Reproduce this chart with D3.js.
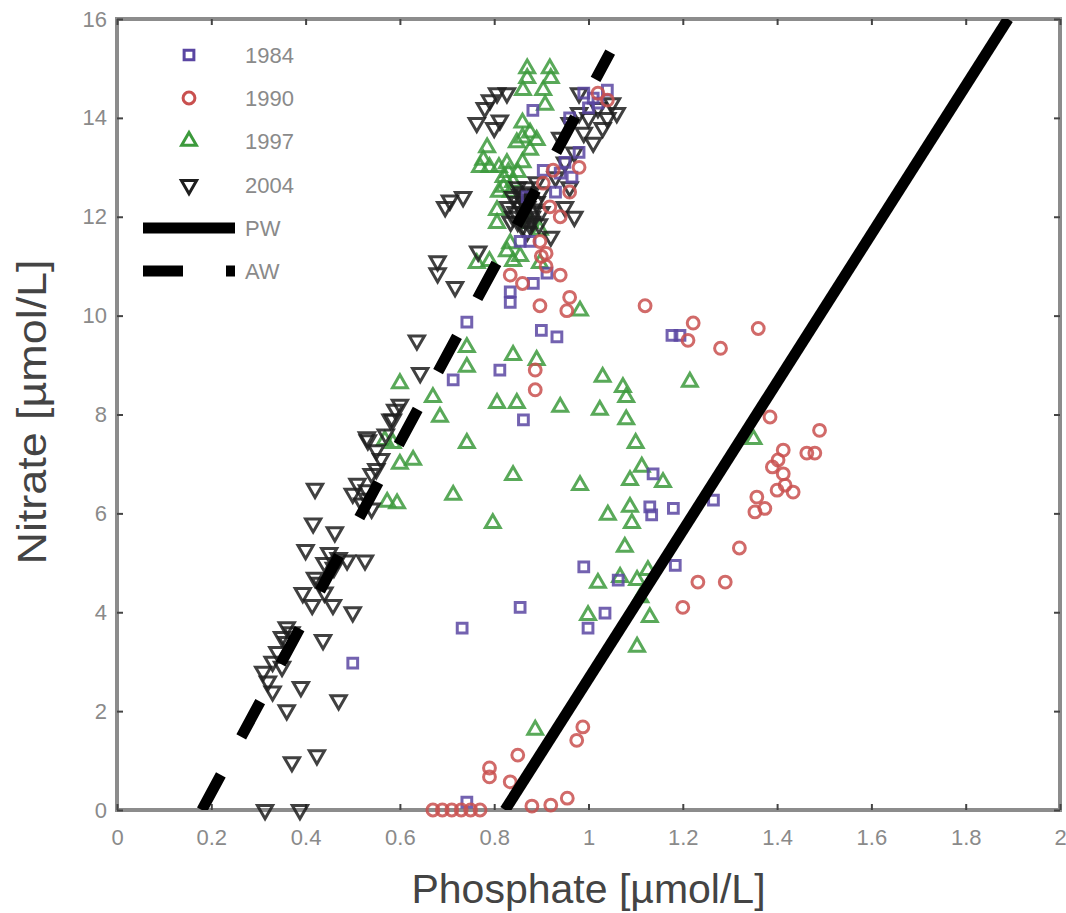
<!DOCTYPE html>
<html lang="en">
<head>
<meta charset="UTF-8">
<title>Nitrate vs phosphate</title>
<script src="https://d3js.org/d3.v7.min.js"></script>
<style>
  body { margin: 0; background: #fff; }
  svg { display: block; font-family: 'Liberation Sans', Arial, sans-serif; }
  .axis .domain { display: none; }
  .axis .tick line { stroke: #444; stroke-width: 2; }
  .axis .tick text { fill: #8a8a8a; font-size: 22px; }
  .axis-title { fill: #444; font-size: 41px; }
  .legend-text { fill: #8a8a8a; font-size: 22px; }
</style>
</head>
<body>
<script>
// tick values
var xTicks = [0, 0.2, 0.4, 0.6, 0.8, 1, 1.2, 1.4, 1.6, 1.8, 2];
var yTicks = [0, 2, 4, 6, 8, 10, 12, 14, 16];

// [phosphate, nitrate]
var y1984 = [
  [0.742, 0.16], [0.50, 2.97], [0.732, 3.68], [0.855, 4.1], [0.999, 3.68], [1.035, 3.98],
  [0.99, 4.92], [1.063, 4.65], [1.184, 4.95], [1.13, 6.13], [1.134, 5.97], [1.137, 6.8],
  [1.18, 6.1], [1.265, 6.27], [0.862, 7.89], [0.713, 8.7], [0.812, 8.9], [0.742, 9.87],
  [0.90, 9.7], [0.933, 9.57], [1.177, 9.6], [1.194, 9.6], [0.834, 10.48], [0.834, 10.27],
  [0.883, 10.65], [0.912, 10.86], [0.855, 11.5], [0.876, 11.5], [0.904, 12.94], [0.94, 12.88],
  [0.965, 12.8], [0.882, 14.15], [0.96, 14.0], [1.01, 14.4], [1.04, 14.56], [1.0, 14.2],
  [0.98, 13.3], [0.87, 12.4], [0.93, 12.5], [0.95, 13.1], [1.02, 14.3], [0.99, 14.5]
];
var y1990 = [
  [0.67, 0], [0.69, 0], [0.71, 0], [0.73, 0], [0.75, 0], [0.77, 0], [0.88, 0.08], [0.92, 0.1],
  [0.955, 0.24], [0.79, 0.67], [0.79, 0.85], [0.834, 0.57], [0.85, 1.11], [0.975, 1.41],
  [0.988, 1.68], [1.20, 4.1], [1.232, 4.61], [1.29, 4.61], [1.32, 5.3], [1.353, 6.03],
  [1.374, 6.1], [1.357, 6.33], [1.417, 6.57], [1.434, 6.43], [1.413, 6.8], [1.402, 7.08],
  [1.39, 6.94], [1.40, 6.47], [1.413, 7.28], [1.463, 7.22], [1.48, 7.22], [1.49, 7.68],
  [1.385, 7.95], [1.36, 9.74], [1.28, 9.34], [1.211, 9.5], [1.222, 9.85], [1.12, 10.2],
  [0.954, 10.1], [0.897, 10.2], [0.887, 8.5], [0.887, 8.9], [0.834, 10.82], [0.86, 10.65],
  [0.94, 10.82], [0.96, 10.37], [0.90, 11.2], [0.91, 11.0], [0.897, 11.5], [0.91, 11.26],
  [0.918, 12.2], [0.904, 12.68], [0.925, 12.94], [1.04, 14.36], [1.02, 14.5], [0.96, 12.5],
  [0.98, 13.0], [0.94, 12.0]
];
var y1997 = [
  [0.887, 1.62], [1.103, 3.3], [1.13, 3.9], [0.999, 3.94], [1.02, 4.59], [1.067, 4.71],
  [1.103, 4.65], [1.126, 4.85], [1.11, 4.3], [1.077, 5.32], [1.092, 5.8], [1.041, 5.97],
  [1.088, 6.13], [0.982, 6.57], [1.088, 6.67], [1.113, 6.94], [1.158, 6.63], [1.10, 7.42],
  [1.35, 7.5], [1.024, 8.09], [1.073, 8.55], [1.08, 8.35], [1.08, 7.9], [1.03, 8.76],
  [1.215, 8.66], [0.94, 8.15], [0.848, 8.23], [0.806, 8.23], [0.742, 7.42], [0.685, 7.95],
  [0.67, 8.35], [0.60, 8.63], [0.742, 9.36], [0.742, 8.96], [0.84, 9.2], [0.89, 9.1],
  [0.982, 10.1], [0.568, 7.48], [0.585, 7.42], [0.628, 7.08], [0.60, 7.0], [0.573, 6.23],
  [0.594, 6.2], [0.713, 6.37], [0.84, 6.77], [0.797, 5.8],
  [0.763, 11.06], [0.827, 11.3], [0.855, 11.2], [0.897, 11.06], [0.79, 11.1], [0.84, 11.1],
  [0.834, 11.46], [0.876, 11.87], [0.897, 11.73], [0.806, 12.13], [0.806, 11.87], [0.81, 12.5],
  [0.82, 12.8], [0.83, 12.9], [0.84, 12.7], [0.85, 12.9], [0.82, 12.6], [0.81, 13.0],
  [0.86, 13.1], [0.835, 12.5], [0.785, 13.4], [0.777, 13.15], [0.77, 13.0], [0.79, 13.0],
  [0.827, 13.08], [0.86, 13.9], [0.86, 13.6], [0.876, 13.7], [0.89, 13.55], [0.848, 13.5],
  [0.876, 13.35], [0.87, 15.0], [0.918, 15.0], [0.87, 14.8], [0.92, 14.8], [0.861, 14.56],
  [0.904, 14.56], [0.908, 14.26]
];
var y2004 = [
  [0.314, 0], [0.388, 0], [0.371, 0.97], [0.424, 1.11], [0.36, 2.02], [0.39, 2.49], [0.47, 2.22],
  [0.31, 2.8], [0.33, 3.0], [0.35, 3.5], [0.36, 3.4], [0.34, 3.2], [0.32, 2.6], [0.36, 3.7],
  [0.37, 3.6], [0.33, 2.4], [0.35, 2.9], [0.437, 3.44], [0.394, 4.39], [0.414, 4.15],
  [0.458, 4.15], [0.50, 4.0], [0.43, 4.6], [0.44, 5.0], [0.45, 5.2], [0.42, 4.7], [0.46, 4.9],
  [0.47, 5.1], [0.526, 5.05], [0.488, 5.05], [0.40, 5.26], [0.44, 4.4], [0.462, 5.62],
  [0.416, 5.8], [0.42, 6.5], [0.53, 6.47], [0.52, 6.2], [0.54, 6.8], [0.51, 6.6], [0.55, 6.9],
  [0.53, 6.3], [0.50, 6.4], [0.54, 6.1], [0.532, 7.48], [0.55, 7.28], [0.57, 7.6], [0.58, 7.9],
  [0.59, 8.1], [0.53, 7.54], [0.585, 7.9], [0.636, 9.5], [0.643, 8.84], [0.60, 8.2], [0.56, 7.1],
  [0.68, 11.1], [0.68, 10.86], [0.717, 10.58], [0.766, 11.3], [0.706, 12.33], [0.734, 12.4],
  [0.696, 12.2], [0.763, 13.9], [0.812, 13.95], [0.806, 14.5], [0.791, 14.36], [0.827, 14.5],
  [0.78, 14.2], [0.80, 13.8],
  [0.84, 12.0], [0.85, 12.3], [0.86, 12.5], [0.87, 12.2], [0.88, 11.9], [0.86, 11.8],
  [0.84, 12.4], [0.85, 11.9], [0.87, 12.6], [0.89, 12.3], [0.88, 12.0], [0.86, 12.1],
  [0.90, 12.5], [0.83, 12.2], [0.87, 11.7], [0.89, 12.7], [0.85, 12.6], [0.90, 12.1],
  [0.845, 12.1], [0.855, 12.45], [0.865, 11.95], [0.875, 12.35], [0.885, 12.15], [0.835, 11.9],
  [0.895, 11.85], [0.865, 12.25], [0.875, 11.85], [0.855, 12.2],
  [0.94, 13.6], [0.96, 13.9], [0.98, 14.1], [1.0, 14.0], [1.02, 14.2], [1.04, 14.0],
  [1.06, 14.1], [0.97, 13.3], [0.95, 13.1], [0.99, 13.7], [1.03, 13.8], [1.05, 14.3],
  [0.93, 12.8], [0.96, 12.6], [0.98, 14.5], [1.01, 13.5], [0.95, 12.2], [0.97, 12.0], [0.92, 11.6]
];

// water mass lines
var pwLine = [[0.823, 0], [1.89, 16]];
var awLine = [[0.18, 0], [1.046, 15.33]];

function draw() {
  var width = 1066, height = 913;
  var plotLeft = 117, plotRight = 1060, plotTop = 19, plotBottom = 810;

  var svg = d3.select("body").append("svg")
      .attr("width", width)
      .attr("height", height);

  var x = d3.scaleLinear().domain([0, 2]).range([plotLeft, plotRight]);
  var y = d3.scaleLinear().domain([0, 16]).range([plotBottom, plotTop]);

  svg.append("defs").append("clipPath").attr("id", "plot-clip")
    .append("rect")
      .attr("x", plotLeft).attr("y", plotTop)
      .attr("width", plotRight - plotLeft).attr("height", plotBottom - plotTop);

  // frame
  svg.append("rect")
      .attr("x", plotLeft).attr("y", plotTop)
      .attr("width", plotRight - plotLeft).attr("height", plotBottom - plotTop)
      .attr("fill", "none")
      .attr("stroke", "#8c8c8c")
      .attr("stroke-width", 4);

  // axes, ticks pointing inwards
  var fmt = d3.format("~g");
  svg.append("g").attr("class", "axis")
      .attr("transform", "translate(0," + plotBottom + ")")
      .call(d3.axisBottom(x).tickValues(xTicks).tickSizeInner(-6).tickSizeOuter(0).tickPadding(19).tickFormat(fmt));
  svg.append("g").attr("class", "axis")
      .attr("transform", "translate(0," + plotTop + ")")
      .call(d3.axisTop(x).tickValues(xTicks).tickSizeInner(-6).tickSizeOuter(0).tickFormat(""));
  svg.append("g").attr("class", "axis")
      .attr("transform", "translate(" + plotLeft + ",0)")
      .call(d3.axisLeft(y).tickValues(yTicks).tickSizeInner(-6).tickSizeOuter(0).tickPadding(10).tickFormat(fmt));
  svg.append("g").attr("class", "axis")
      .attr("transform", "translate(" + plotRight + ",0)")
      .call(d3.axisRight(y).tickValues(yTicks).tickSizeInner(-6).tickSizeOuter(0).tickFormat(""));

  var series = [
    { name: "1997", data: y1997, color: "#3c9a3c", type: d3.symbolTriangle, size: 95, rot: 0 },
    { name: "2004", data: y2004, color: "#1e1e1e", type: d3.symbolTriangle, size: 100, rot: 180 },
    { name: "1984", data: y1984, color: "#5a46a2", type: d3.symbolSquare, size: 95, rot: 0 },
    { name: "1990", data: y1990, color: "#c9504f", type: d3.symbolCircle, size: 110, rot: 0 }
  ];

  series.forEach(function(s) {
    var path = d3.symbol().type(s.type).size(s.size)();
    svg.append("g")
      .selectAll("path")
      .data(s.data)
      .enter()
      .append("path")
        .attr("d", path)
        .attr("transform", function(d) {
          return "translate(" + x(d[0]) + "," + y(d[1]) + ") rotate(" + s.rot + ")";
        })
        .attr("fill", "none")
        .attr("stroke", s.color)
        .attr("stroke-width", 3)
        .attr("stroke-opacity", 0.85);
  });

  var line = d3.line().x(function(d) { return x(d[0]); }).y(function(d) { return y(d[1]); });

  svg.append("path")
      .datum(awLine)
      .attr("clip-path", "url(#plot-clip)")
      .attr("d", line)
      .attr("fill", "none")
      .attr("stroke", "#000")
      .attr("stroke-width", 11)
      .attr("stroke-dasharray", "40,43");

  svg.append("path")
      .datum(pwLine)
      .attr("clip-path", "url(#plot-clip)")
      .attr("d", line)
      .attr("fill", "none")
      .attr("stroke", "#000")
      .attr("stroke-width", 11);

  // legend
  var legendRows = ["1984", "1990", "1997", "2004"];
  var rowY = [55, 98, 141, 185, 228, 271];
  var legend = svg.append("g");
  legendRows.forEach(function(name, i) {
    var s = series.find(function(t) { return t.name === name; });
    legend.append("path")
        .attr("d", d3.symbol().type(s.type).size(s.size)())
        .attr("transform", "translate(189," + rowY[i] + ") rotate(" + s.rot + ")")
        .attr("fill", "none")
        .attr("stroke", s.color)
        .attr("stroke-width", 3);
    legend.append("text")
        .attr("class", "legend-text")
        .attr("x", 245).attr("y", rowY[i])
        .attr("dy", "0.36em")
        .text(name);
  });
  legend.append("line")
      .attr("x1", 143).attr("x2", 235)
      .attr("y1", rowY[4]).attr("y2", rowY[4])
      .attr("stroke", "#000").attr("stroke-width", 11);
  legend.append("text").attr("class", "legend-text")
      .attr("x", 245).attr("y", rowY[4]).attr("dy", "0.36em").text("PW");
  legend.append("line")
      .attr("x1", 143).attr("x2", 235)
      .attr("y1", rowY[5]).attr("y2", rowY[5])
      .attr("stroke", "#000").attr("stroke-width", 11)
      .attr("stroke-dasharray", "40,43");
  legend.append("text").attr("class", "legend-text")
      .attr("x", 245).attr("y", rowY[5]).attr("dy", "0.36em").text("AW");

  // axis titles
  svg.append("text")
      .attr("class", "axis-title")
      .attr("x", (plotLeft + plotRight) / 2)
      .attr("y", 903)
      .attr("text-anchor", "middle")
      .text("Phosphate [µmol/L]");
  svg.append("text")
      .attr("class", "axis-title")
      .attr("transform", "translate(46,412) rotate(-90)")
      .attr("text-anchor", "middle")
      .attr("textLength", 305)
      .attr("lengthAdjust", "spacingAndGlyphs")
      .text("Nitrate [µmol/L]");
}

draw();
</script>
</body>
</html>
